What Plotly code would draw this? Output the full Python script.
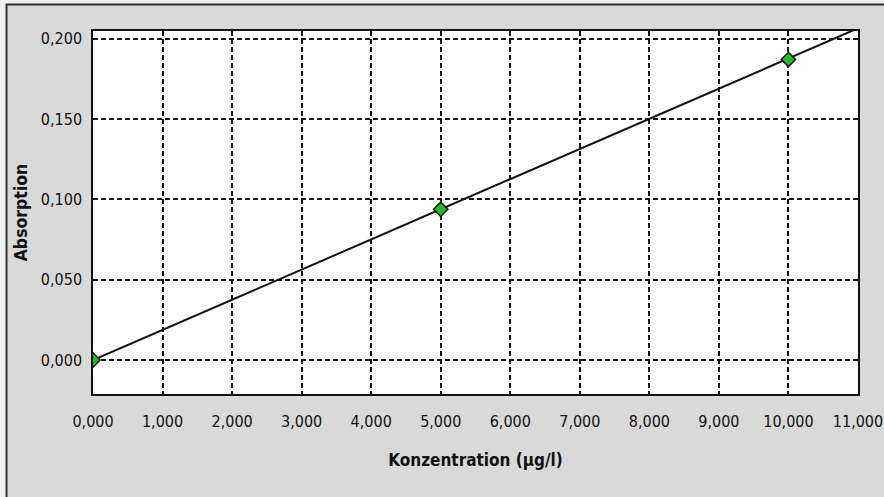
import plotly.graph_objects as go

# Calibration standards
konzentration = [0.0, 5.0, 10.0]          # µg/l
absorption = [0.0, 0.0938, 0.1870]

# Calibration line (fit), endpoints
fit_x = [0.0, 11.0]
fit_y = [0.0, 0.2064]

x_ticks = [0, 1, 2, 3, 4, 5, 6, 7, 8, 9, 10, 11]
y_ticks = [0.0, 0.05, 0.10, 0.15, 0.20]

FONT = "DejaVu Sans Condensed, Roboto, Arial, sans-serif"

fig = go.Figure()
fig.add_trace(go.Scatter(x=fit_x, y=fit_y, mode="lines",
                         line=dict(color="#111111", width=2), showlegend=False,
                         hoverinfo="skip"))
fig.add_trace(go.Scatter(x=konzentration, y=absorption, mode="markers",
                         marker=dict(symbol="diamond", size=11, color="#1fbf1f",
                                     line=dict(color="#111111", width=1.5)),
                         showlegend=False, cliponaxis=True))

# Outer panel frame (paper coords)
L, R, T, B = 93, 26, 31, 103
W, H = 884, 497
pw, ph = W - L - R, H - T - B
def px(xp): return (xp - L) / pw
def py(yp): return (H - B - yp) / ph

fig.add_shape(type="rect", xref="paper", yref="paper",
              x0=px(6.5), x1=px(892), y0=py(4.5), y1=py(505),
              fillcolor="#d9d9d9", line=dict(color="#333333", width=2), layer="below")
fig.add_shape(type="rect", xref="paper", yref="paper",
              x0=0, x1=1, y0=0, y1=1,
              fillcolor="#ffffff", line=dict(width=0), layer="below")

axis_common = dict(showline=True, mirror=True, linecolor="#111111", linewidth=1.5,
                   showgrid=True, gridcolor="#111111", gridwidth=2, griddash="5px,3px",
                   zeroline=False, ticks="", automargin=False,
                   tickfont=dict(family=FONT, size=16, color="#111111"))

fig.update_xaxes(range=[0, 11], tickvals=x_ticks, tickformat=".3f",
                 ticklabelstandoff=12,
                 title=dict(text="<b>Konzentration (µg/l)</b>", standoff=24,
                            font=dict(family=FONT, size=17, color="#111111")),
                 **axis_common)
fig.update_yaxes(range=[-0.0211, 0.2047], tickvals=y_ticks, tickformat=".3f",
                 ticklabelstandoff=6,
                 title=dict(text="<b>Absorption</b>", standoff=9,
                            font=dict(family=FONT, size=17.5, color="#111111")),
                 **axis_common)

fig.update_layout(width=W, height=H, separators=",.",
                  margin=dict(l=L, r=R, t=T, b=B),
                  paper_bgcolor="#f0f0f0", plot_bgcolor="#ffffff",
                  font=dict(family=FONT, color="#111111"))

fig.write_html("out.html", config={"displayModeBar": False},
               post_script="document.body.style.margin='0';document.body.style.padding='0';")
